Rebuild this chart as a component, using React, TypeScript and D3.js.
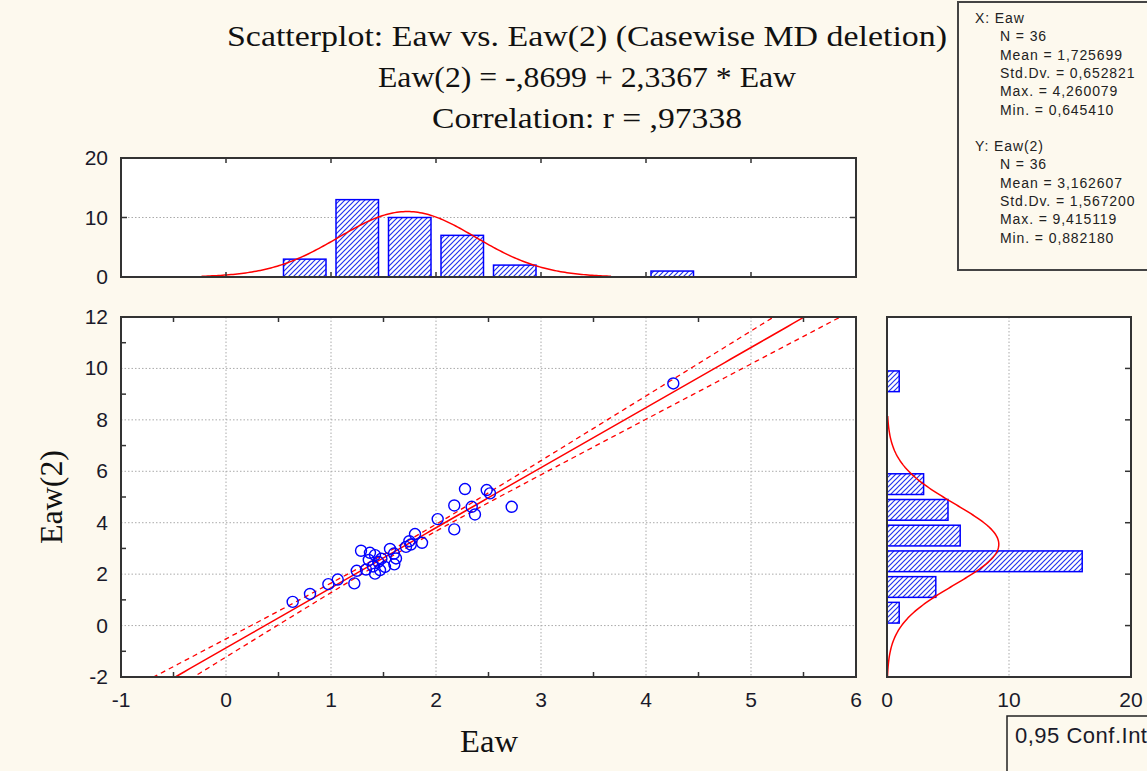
import React, { useEffect, useRef } from 'react';
import * as d3 from 'd3';

// scatter values
const eaw = [0.635, 0.80, 0.975, 1.064, 1.222, 1.245, 1.286, 1.333, 1.371, 1.419, 1.419, 1.45,
  1.467, 1.36, 1.40, 1.48, 1.514, 1.562, 1.60, 1.619, 1.603, 1.714, 1.746, 1.76, 1.80, 1.867,
  2.016, 2.174, 2.174, 2.276, 2.34, 2.371, 2.483, 2.514, 2.721, 4.26];
const eaw2 = [0.92, 1.23, 1.61, 1.79, 1.64, 2.13, 2.91, 2.18, 2.83, 2.74, 2.02, 2.48,
  2.16, 2.55, 2.30, 2.60, 2.28, 2.98, 2.80, 2.61, 2.38, 3.06, 3.28, 3.15, 3.56, 3.22,
  4.14, 4.67, 3.74, 5.31, 4.62, 4.32, 5.27, 5.14, 4.62, 9.415];

// histograms
const xBinStart = [0.5, 1.0, 1.5, 2.0, 2.5, 4.0];
const xBinCount = [3, 13, 10, 7, 2, 1];
const xBinWidth = 0.5;
const yBinStart = [0, 1, 2, 3, 4, 5, 9];
const yBinCount = [1, 4, 16, 6, 5, 3, 1];
const yBinWidth = 1;

// summary stats shown in the box
const nCases = 36;
const xMean = 1.725699, xSd = 0.652821;
const yMean = 3.162607, ySd = 1.5672;
const intercept = -0.8699, slope = 2.3367, corr = 0.97338;

const xTicks = [-1, 0, 1, 2, 3, 4, 5, 6];
const yTicks = [-2, 0, 2, 4, 6, 8, 10, 12];
const topTicks = [0, 10, 20];
const rightTicks = [0, 10, 20];

const statLines = [
  ['X:  Eaw', 975], ['N = 36', 1000], ['Mean = 1,725699', 1000], ['Std.Dv. = 0,652821', 1000],
  ['Max. = 4,260079', 1000], ['Min. = 0,645410', 1000], ['', 0],
  ['Y:  Eaw(2)', 975], ['N = 36', 1000], ['Mean = 3,162607', 1000], ['Std.Dv. = 1,567200', 1000],
  ['Max. = 9,415119', 1000], ['Min. = 0,882180', 1000]
];

const BG = '#fdf9ee';
const SANS = '"Liberation Sans", Arial, sans-serif';
const SERIF = '"Liberation Serif", "Times New Roman", serif';

const App = () => {
  const ref = useRef(null);

  useEffect(() => {
    const svg = d3.select(ref.current);
    svg.selectAll('*').remove();

    svg.append('rect').attr('width', 1147).attr('height', 771).attr('fill', BG);

    const defs = svg.append('defs');
    const pat = defs.append('pattern').attr('id', 'hatch').attr('patternUnits', 'userSpaceOnUse')
      .attr('width', 5).attr('height', 5);
    pat.append('rect').attr('width', 5).attr('height', 5).attr('fill', '#fff');
    pat.append('path').attr('d', 'M0,5 L5,0 M-1,1 L1,-1 M4,6 L6,4')
      .attr('stroke', '#2233ee').attr('stroke-width', 1.2);

    const x = d3.scaleLinear().domain([-1, 6]).range([121, 856]);
    const y = d3.scaleLinear().domain([-2, 12]).range([677, 317]);
    const yTop = d3.scaleLinear().domain([0, 20]).range([277, 158]);
    const xRight = d3.scaleLinear().domain([0, 20]).range([887, 1131]);

    // titles
    const titles = [
      ['Scatterplot: Eaw vs. Eaw(2) (Casewise MD deletion)', 46, 720],
      ['Eaw(2) = -,8699 + 2,3367 * Eaw', 87, 418],
      ['Correlation: r = ,97338', 128, 310]
    ];
    titles.forEach(([t, ty, w]) => {
      svg.append('text').text(t).attr('x', 587).attr('y', ty).attr('text-anchor', 'middle')
        .attr('textLength', w).attr('lengthAdjust', 'spacingAndGlyphs')
        .attr('font-family', SERIF).attr('font-size', 29).attr('fill', '#111');
    });

    const frame = (x0, y0, x1, y1) => {
      svg.append('rect').attr('x', x0).attr('y', y0).attr('width', x1 - x0).attr('height', y1 - y0)
        .attr('fill', '#fff');
    };
    const border = (x0, y0, x1, y1) => {
      svg.append('rect').attr('x', x0).attr('y', y0).attr('width', x1 - x0).attr('height', y1 - y0)
        .attr('fill', 'none').attr('stroke', '#333').attr('stroke-width', 2);
    };
    const grid = (x1, y1, x2, y2) => {
      svg.append('line').attr('x1', x1).attr('y1', y1).attr('x2', x2).attr('y2', y2)
        .attr('stroke', '#aaa').attr('stroke-width', 1).attr('stroke-dasharray', '1.5,2');
    };
    const tick = (x1, y1, x2, y2) => {
      svg.append('line').attr('x1', x1).attr('y1', y1).attr('x2', x2).attr('y2', y2)
        .attr('stroke', '#333').attr('stroke-width', 1.5);
    };
    const label = (t, lx, ly, anchor) => {
      svg.append('text').text(t).attr('x', lx).attr('y', ly).attr('text-anchor', anchor)
        .attr('font-family', SANS).attr('font-size', 21).attr('fill', '#1a1a2a');
    };

    // ---------- top histogram ----------
    frame(121, 158, 856, 277);
    grid(121, yTop(10), 856, yTop(10));
    xBinStart.forEach((s, i) => {
      svg.append('rect')
        .attr('x', x(s) + 5).attr('y', yTop(xBinCount[i]))
        .attr('width', x(s + xBinWidth) - x(s) - 10)
        .attr('height', yTop(0) - yTop(xBinCount[i]))
        .attr('fill', 'url(#hatch)').attr('stroke', '#0000ff').attr('stroke-width', 1.5);
    });
    const topCurve = d3.range(xMean - 3 * xSd, xMean + 3 * xSd, 0.02).map(v => [
      v, nCases * xBinWidth / (xSd * Math.sqrt(2 * Math.PI)) * Math.exp(-0.5 * ((v - xMean) / xSd) ** 2)
    ]);
    svg.append('path').datum(topCurve)
      .attr('d', d3.line().x(d => x(d[0])).y(d => yTop(d[1])))
      .attr('fill', 'none').attr('stroke', '#ff0000').attr('stroke-width', 1.5);
    [0, 1, 2, 3, 4, 5].forEach(v => {
      tick(x(v), 158, x(v), 163);
      tick(x(v), 277, x(v), 272);
    });
    tick(121, yTop(10), 127, yTop(10));
    tick(856, yTop(10), 850, yTop(10));
    border(121, 158, 856, 277);
    topTicks.forEach(v => label(String(v), 108, yTop(v) + 7, 'end'));

    // ---------- scatterplot ----------
    frame(121, 317, 856, 677);
    [0, 1, 2, 3, 4, 5].forEach(v => grid(x(v), 317, x(v), 677));
    [0, 2, 4, 6, 8, 10].forEach(v => grid(121, y(v), 856, y(v)));

    const clip = defs.append('clipPath').attr('id', 'sc');
    clip.append('rect').attr('x', 121).attr('y', 317).attr('width', 735).attr('height', 360);
    const plot = svg.append('g').attr('clip-path', 'url(#sc)');

    // regression line with 95% confidence band for the mean
    const sRes = ySd * Math.sqrt(1 - corr * corr) * Math.sqrt((nCases - 1) / (nCases - 2));
    const sxx = (nCases - 1) * xSd * xSd;
    const tCrit = 2.032;
    const xs = d3.range(-1, 6.01, 0.05);
    const fit = v => intercept + slope * v;
    const half = v => tCrit * sRes * Math.sqrt(1 / nCases + (v - xMean) ** 2 / sxx);
    const ln = d3.line().x(d => x(d[0])).y(d => y(d[1]));
    plot.append('path').datum(xs.map(v => [v, fit(v)])).attr('d', ln)
      .attr('fill', 'none').attr('stroke', '#ff0000').attr('stroke-width', 1.5);
    [-1, 1].forEach(sg => {
      plot.append('path').datum(xs.map(v => [v, fit(v) + sg * half(v)])).attr('d', ln)
        .attr('fill', 'none').attr('stroke', '#ff0000').attr('stroke-width', 1.3)
        .attr('stroke-dasharray', '5,4');
    });

    plot.selectAll('circle').data(eaw).enter().append('circle')
      .attr('cx', d => x(d)).attr('cy', (d, i) => y(eaw2[i])).attr('r', 5.5)
      .attr('fill', 'none').attr('stroke', '#0000ff').attr('stroke-width', 1.4);

    d3.range(-2, 12, 1).forEach(v => {
      if (v % 2 !== 0) tick(121, y(v), 126, y(v));
    });
    d3.range(-0.5, 6, 1).forEach(v => {
      tick(x(v), 677, x(v), 672);
      tick(x(v), 317, x(v), 322);
    });
    border(121, 317, 856, 677);
    xTicks.forEach(v => label(String(v), x(v), 707, 'middle'));
    yTicks.forEach(v => label(String(v), 108, y(v) + 7, 'end'));

    svg.append('text').text('Eaw').attr('x', 489).attr('y', 752).attr('text-anchor', 'middle')
      .attr('textLength', 58).attr('lengthAdjust', 'spacingAndGlyphs')
      .attr('font-family', SERIF).attr('font-size', 31).attr('fill', '#111');
    svg.append('text').text('Eaw(2)').attr('transform', 'translate(62,497) rotate(-90)')
      .attr('text-anchor', 'middle').attr('textLength', 94).attr('lengthAdjust', 'spacingAndGlyphs')
      .attr('font-family', SERIF).attr('font-size', 31).attr('fill', '#111');

    // ---------- right histogram ----------
    frame(887, 317, 1131, 677);
    grid(xRight(10), 317, xRight(10), 677);
    yBinStart.forEach((s, i) => {
      svg.append('rect')
        .attr('x', xRight(0)).attr('y', y(s + yBinWidth) + 2.5)
        .attr('width', xRight(yBinCount[i]) - xRight(0))
        .attr('height', y(s) - y(s + yBinWidth) - 5)
        .attr('fill', 'url(#hatch)').attr('stroke', '#0000ff').attr('stroke-width', 1.5);
    });
    const rightCurve = d3.range(-2, yMean + 3.2 * ySd, 0.05).map(v => [
      v, nCases * yBinWidth / (ySd * Math.sqrt(2 * Math.PI)) * Math.exp(-0.5 * ((v - yMean) / ySd) ** 2)
    ]);
    svg.append('path').datum(rightCurve)
      .attr('d', d3.line().x(d => xRight(d[1])).y(d => y(d[0])))
      .attr('fill', 'none').attr('stroke', '#ff0000').attr('stroke-width', 1.5);
    [0, 2, 4, 6, 8, 10].forEach(v => tick(1131, y(v), 1125, y(v)));
    border(887, 317, 1131, 677);
    rightTicks.forEach(v => label(String(v), xRight(v), 707, 'middle'));

    // ---------- stats box ----------
    svg.append('rect').attr('x', 958).attr('y', 2).attr('width', 220).attr('height', 268)
      .attr('fill', 'none').attr('stroke', '#444').attr('stroke-width', 2);
    statLines.forEach(([t, tx], i) => {
      if (!t) return;
      svg.append('text').text(t).attr('x', tx).attr('y', 23 + i * 18.3)
        .attr('font-family', SANS).attr('font-size', 14).attr('letter-spacing', 0.9)
        .attr('fill', '#222');
    });

    // ---------- legend box ----------
    svg.append('rect').attr('x', 1007).attr('y', 716).attr('width', 200).attr('height', 80)
      .attr('fill', 'none').attr('stroke', '#222').attr('stroke-width', 1.5);
    svg.append('text').text('0,95 Conf.Int.').attr('x', 1015).attr('y', 743)
      .attr('font-family', SANS).attr('font-size', 22).attr('letter-spacing', 0.5)
      .attr('fill', '#1a1a2a');
  }, []);

  return (
    <svg ref={ref} width={1147} height={771}
      style={{ position: 'absolute', left: 0, top: 0, display: 'block' }} />
  );
};

export default App;
